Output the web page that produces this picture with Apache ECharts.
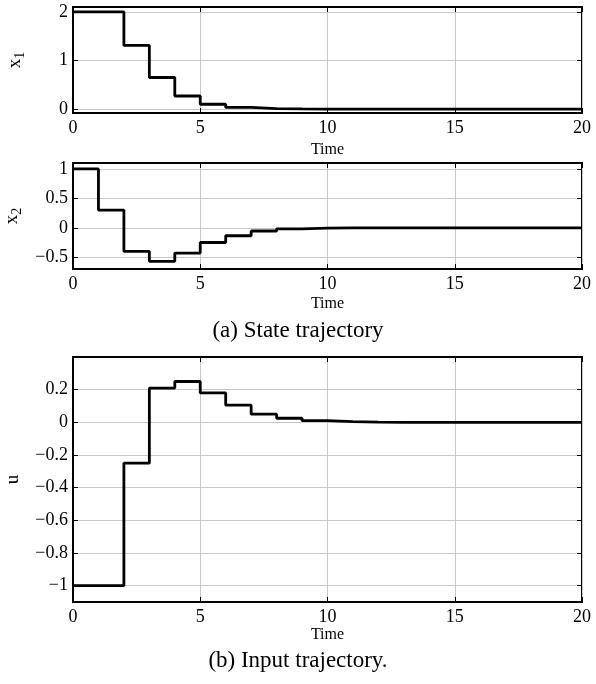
<!DOCTYPE html>
<html>
<head>
<meta charset="utf-8">
<script src="https://cdn.jsdelivr.net/npm/echarts@6/dist/echarts.min.js"></script>
<style>
  html, body { margin: 0; padding: 0; background: #fff; }
  #chart { width: 596px; height: 684px; }
</style>
</head>
<body>
<div id="chart"></div>
<script>
// sample instants (zero-order hold, value held until next instant)
const time = [0, 1, 2, 3, 4, 5, 6, 7, 8, 9, 10, 11, 12, 13, 14, 15, 16, 17, 18, 19, 20];
const x1 = [2, 2, 1.31, 0.65, 0.27, 0.1, 0.035, 0.01, 0.003, 0, 0, 0, 0, 0, 0, 0, 0, 0, 0, 0, 0];
const x2 = [1, 0.3, -0.4, -0.57, -0.43, -0.25, -0.135, -0.055, -0.018, -0.005, 0, 0, 0, 0, 0, 0, 0, 0, 0, 0, 0];
const u = [-1, -1, -0.25, 0.21, 0.25, 0.18, 0.105, 0.05, 0.025, 0.01, 0.004, 0.001, 0, 0, 0, 0, 0, 0, 0, 0, 0];

const timeTicks = [0, 5, 10, 15, 20];
const x1Ticks = [0, 1, 2];
const x2Ticks = [-0.5, 0, 0.5, 1];
const uTicks = [-1, -0.8, -0.6, -0.4, -0.2, 0, 0.2];

const serif = '"Liberation Serif", "DejaVu Serif", serif';
const fmt = v => String(+v.toFixed(2)).replace('-', '\u2212');

function pairs(ys) {
  return time.map((t, i) => [t, ys[i]]);
}

const grids = [
  { left: 73, right: 14, top: 7, height: 106 },
  { left: 73, right: 14, top: 163, height: 106 },
  { left: 73, right: 14, top: 357, height: 245 }
];

function timeAxis(gi, gap) {
  return [{
    type: 'value', gridIndex: gi, min: 0, max: 20,
    name: 'Time', nameLocation: 'middle', nameGap: gap,
    nameTextStyle: { fontFamily: serif, fontSize: 16, color: '#000' },
    axisLine: { onZero: false, lineStyle: { color: '#000', width: 2 } },
    axisTick: { inside: true, length: 5, lineStyle: { color: '#000' }, customValues: timeTicks },
    axisLabel: { fontFamily: serif, fontSize: 18, color: '#000', margin: 6, customValues: timeTicks },
    splitLine: { show: true, lineStyle: { color: '#c8c8c8', width: 1 } }
  }, {
    type: 'value', gridIndex: gi, min: 0, max: 20, position: 'top',
    axisLine: { show: false, onZero: false },
    axisTick: { inside: true, length: 5, lineStyle: { color: '#000' }, customValues: timeTicks },
    axisLabel: { show: false },
    splitLine: { show: false }
  }];
}

function valAxis(gi, lo, hi, ticks, name, gap) {
  return [{
    type: 'value', gridIndex: gi, min: lo, max: hi,
    name: name, nameLocation: 'middle', nameGap: gap, nameRotate: 90,
    nameTextStyle: {
      fontFamily: serif, fontSize: 19, color: '#000',
      rich: { sub: { fontFamily: serif, fontSize: 14, color: '#000', padding: [10, 0, 0, 0] } }
    },
    axisLine: { onZero: false, lineStyle: { color: '#000', width: 2 } },
    axisTick: { inside: true, length: 5, lineStyle: { color: '#000' }, customValues: ticks },
    axisLabel: { fontFamily: serif, fontSize: 18, color: '#000', margin: 5, customValues: ticks, formatter: fmt },
    splitLine: { show: true, lineStyle: { color: '#c8c8c8', width: 1 } }
  }, {
    type: 'value', gridIndex: gi, min: lo, max: hi, position: 'right',
    axisLine: { show: false, onZero: false },
    axisTick: { inside: true, length: 5, lineStyle: { color: '#000' }, customValues: ticks },
    axisLabel: { show: false },
    splitLine: { show: false }
  }];
}

function stepLine(gi, ys) {
  return {
    type: 'line', xAxisIndex: gi * 2, yAxisIndex: gi * 2, step: 'end',
    data: pairs(ys), symbol: 'none', silent: true,
    lineStyle: { color: '#000', width: 2.8 }
  };
}

const chart = echarts.init(document.getElementById('chart'), null, { renderer: 'canvas' });
chart.setOption({
  animation: false,
  backgroundColor: '#fff',
  grid: grids.map(g => Object.assign({
    show: true, borderColor: '#000', borderWidth: 2,
    containLabel: false, outerBoundsMode: 'none'
  }, g)),
  xAxis: [].concat(timeAxis(0, 29), timeAxis(1, 27), timeAxis(2, 23)),
  yAxis: [].concat(
    valAxis(0, -0.08, 2.1, x1Ticks, 'x{sub|1}', 46),
    valAxis(1, -0.7, 1.1, x2Ticks, 'x{sub|2}', 46),
    valAxis(2, -1.1, 0.4, uTicks, 'u', 50)
  ),
  series: [stepLine(0, x1), stepLine(1, x2), stepLine(2, u)],
  graphic: [
    { type: 'text', left: 'center', top: 319, style: { text: '(a) State trajectory', font: '23px ' + serif, fill: '#000' } },
    { type: 'text', left: 'center', top: 649, style: { text: '(b) Input trajectory.', font: '23px ' + serif, fill: '#000' } }
  ]
});
</script>
</body>
</html>
